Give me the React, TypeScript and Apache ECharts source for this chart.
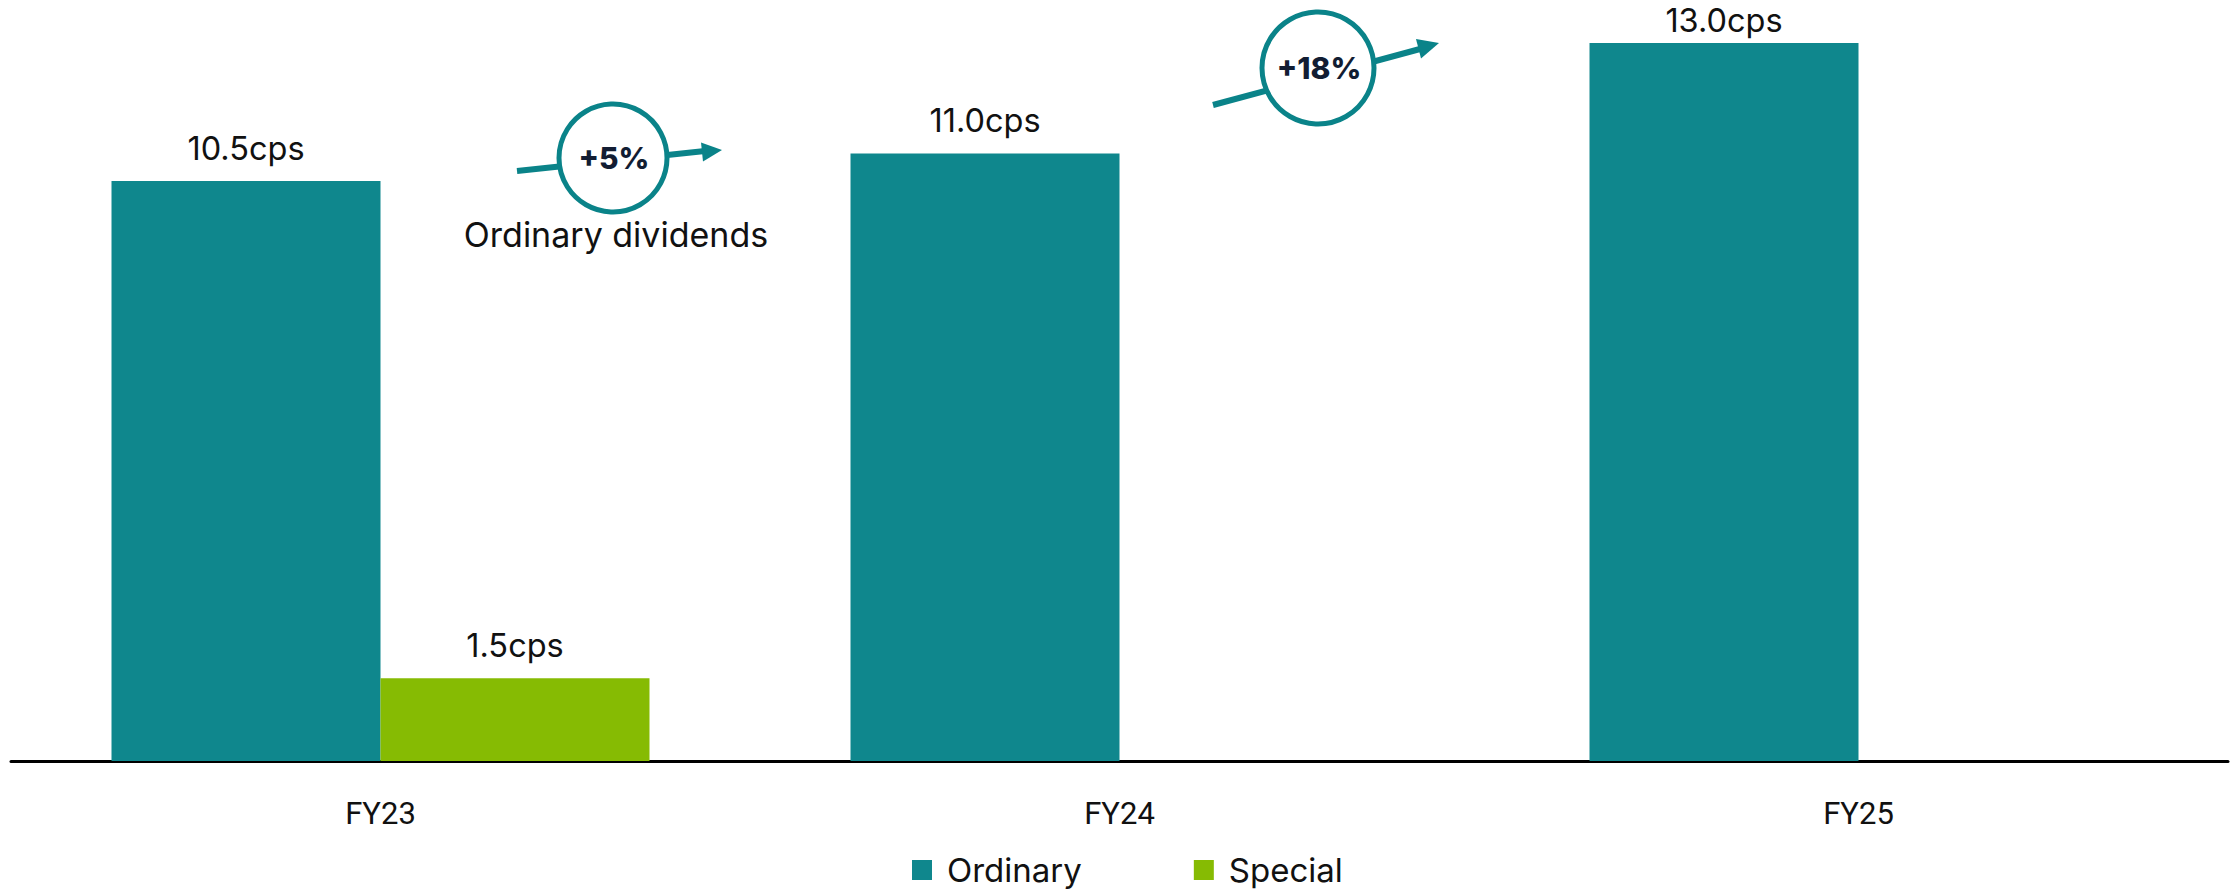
import React, { useEffect, useRef } from "react";
import * as echarts from "echarts";

const categories = ["FY23", "FY24", "FY25"];
const ordinaryValues = [10.5, 11.0, 13.0];
const specialValues: (number | null)[] = [1.5, null, null];
const ordinaryLabels = ["10.5cps", "11.0cps", "13.0cps"];
const specialLabels = ["1.5cps", "", ""];
const seriesNames = ["Ordinary", "Special"];

const TEAL = "#0f878d";
const GREEN = "#86bb03";
const RING = "#0a8389";
const FONT = "Inter, 'Open Sans', sans-serif";

export default function App() {
  const ref = useRef<HTMLDivElement>(null);
  useEffect(() => {
    document.body.style.margin = "0";
    const chart = echarts.init(ref.current!, undefined, { renderer: "svg" });
    const labelStyle = { fontFamily: FONT, fontSize: 32.5, color: "#111", fontWeight: 400 };
    chart.setOption({
      animation: false,
      grid: { left: 11, right: 11, top: 43, bottom: 132 },
      xAxis: {
        type: "category",
        data: categories,
        axisLine: { lineStyle: { color: "#000", width: 3 } },
        axisTick: { show: false },
        axisLabel: { fontFamily: "Roboto, sans-serif", fontSize: 31, color: "#111", margin: 37 },
      },
      yAxis: { type: "value", min: 0, max: 13, show: false, splitLine: { show: false } },
      legend: {
        left: 912,
        top: 853,
        padding: 0,
        itemWidth: 20,
        itemHeight: 20,
        itemGap: 112,
        icon: "rect",
        data: seriesNames,
        textStyle: { fontFamily: FONT, fontSize: 33, lineHeight: 34, color: "#111", padding: [0, 0, 0, 10] },
      },
      series: [
        {
          name: seriesNames[0],
          type: "bar",
          barGap: "0%",
          barCategoryGap: "27.2%",
          itemStyle: { color: TEAL },
          data: ordinaryValues.map((v, i) => ({
            value: v,
            label: i === 2 ? { distance: 6 } : undefined,
          })),
          label: {
            show: true,
            position: "top",
            distance: 16,
            ...labelStyle,
            formatter: (p: any) => ordinaryLabels[p.dataIndex],
          },
        },
        {
          name: seriesNames[1],
          type: "bar",
          itemStyle: { color: GREEN },
          data: specialValues,
          label: {
            show: true,
            position: "top",
            distance: 16,
            ...labelStyle,
            formatter: (p: any) => specialLabels[p.dataIndex],
          },
        },
      ],
      graphic: [
        // +5% arrow
        { type: "line", shape: { x1: 517, y1: 171, x2: 705, y2: 151 }, style: { stroke: RING, lineWidth: 6 } },
        { type: "polygon", shape: { points: [[722, 150], [701, 142.5], [703, 161.5]] }, style: { fill: RING } },
        { type: "circle", shape: { cx: 613, cy: 158, r: 54 }, style: { fill: "#fff", stroke: RING, lineWidth: 5 } },
        {
          type: "text",
          x: 614,
          y: 158,
          style: { text: "+5%", fontFamily: FONT, fontSize: 30, fontWeight: 800, fill: "#121d33", align: "center", verticalAlign: "middle" },
        },
        {
          type: "text",
          x: 616,
          y: 234,
          style: { text: "Ordinary dividends", fontFamily: FONT, fontSize: 34, fill: "#111", align: "center", verticalAlign: "middle" },
        },
        // +18% arrow
        { type: "line", shape: { x1: 1213, y1: 105, x2: 1420, y2: 49 }, style: { stroke: RING, lineWidth: 6 } },
        { type: "polygon", shape: { points: [[1439, 43], [1416, 39], [1421, 58.5]] }, style: { fill: RING } },
        { type: "circle", shape: { cx: 1318, cy: 68, r: 56 }, style: { fill: "#fff", stroke: RING, lineWidth: 5 } },
        {
          type: "text",
          x: 1319,
          y: 68,
          style: { text: "+18%", fontFamily: FONT, fontSize: 30, fontWeight: 800, fill: "#121d33", align: "center", verticalAlign: "middle" },
        },
      ],
    });
    return () => chart.dispose();
  }, []);
  return <div ref={ref} style={{ position: "absolute", left: 0, top: 0, width: 2239, height: 893 }} />;
}
